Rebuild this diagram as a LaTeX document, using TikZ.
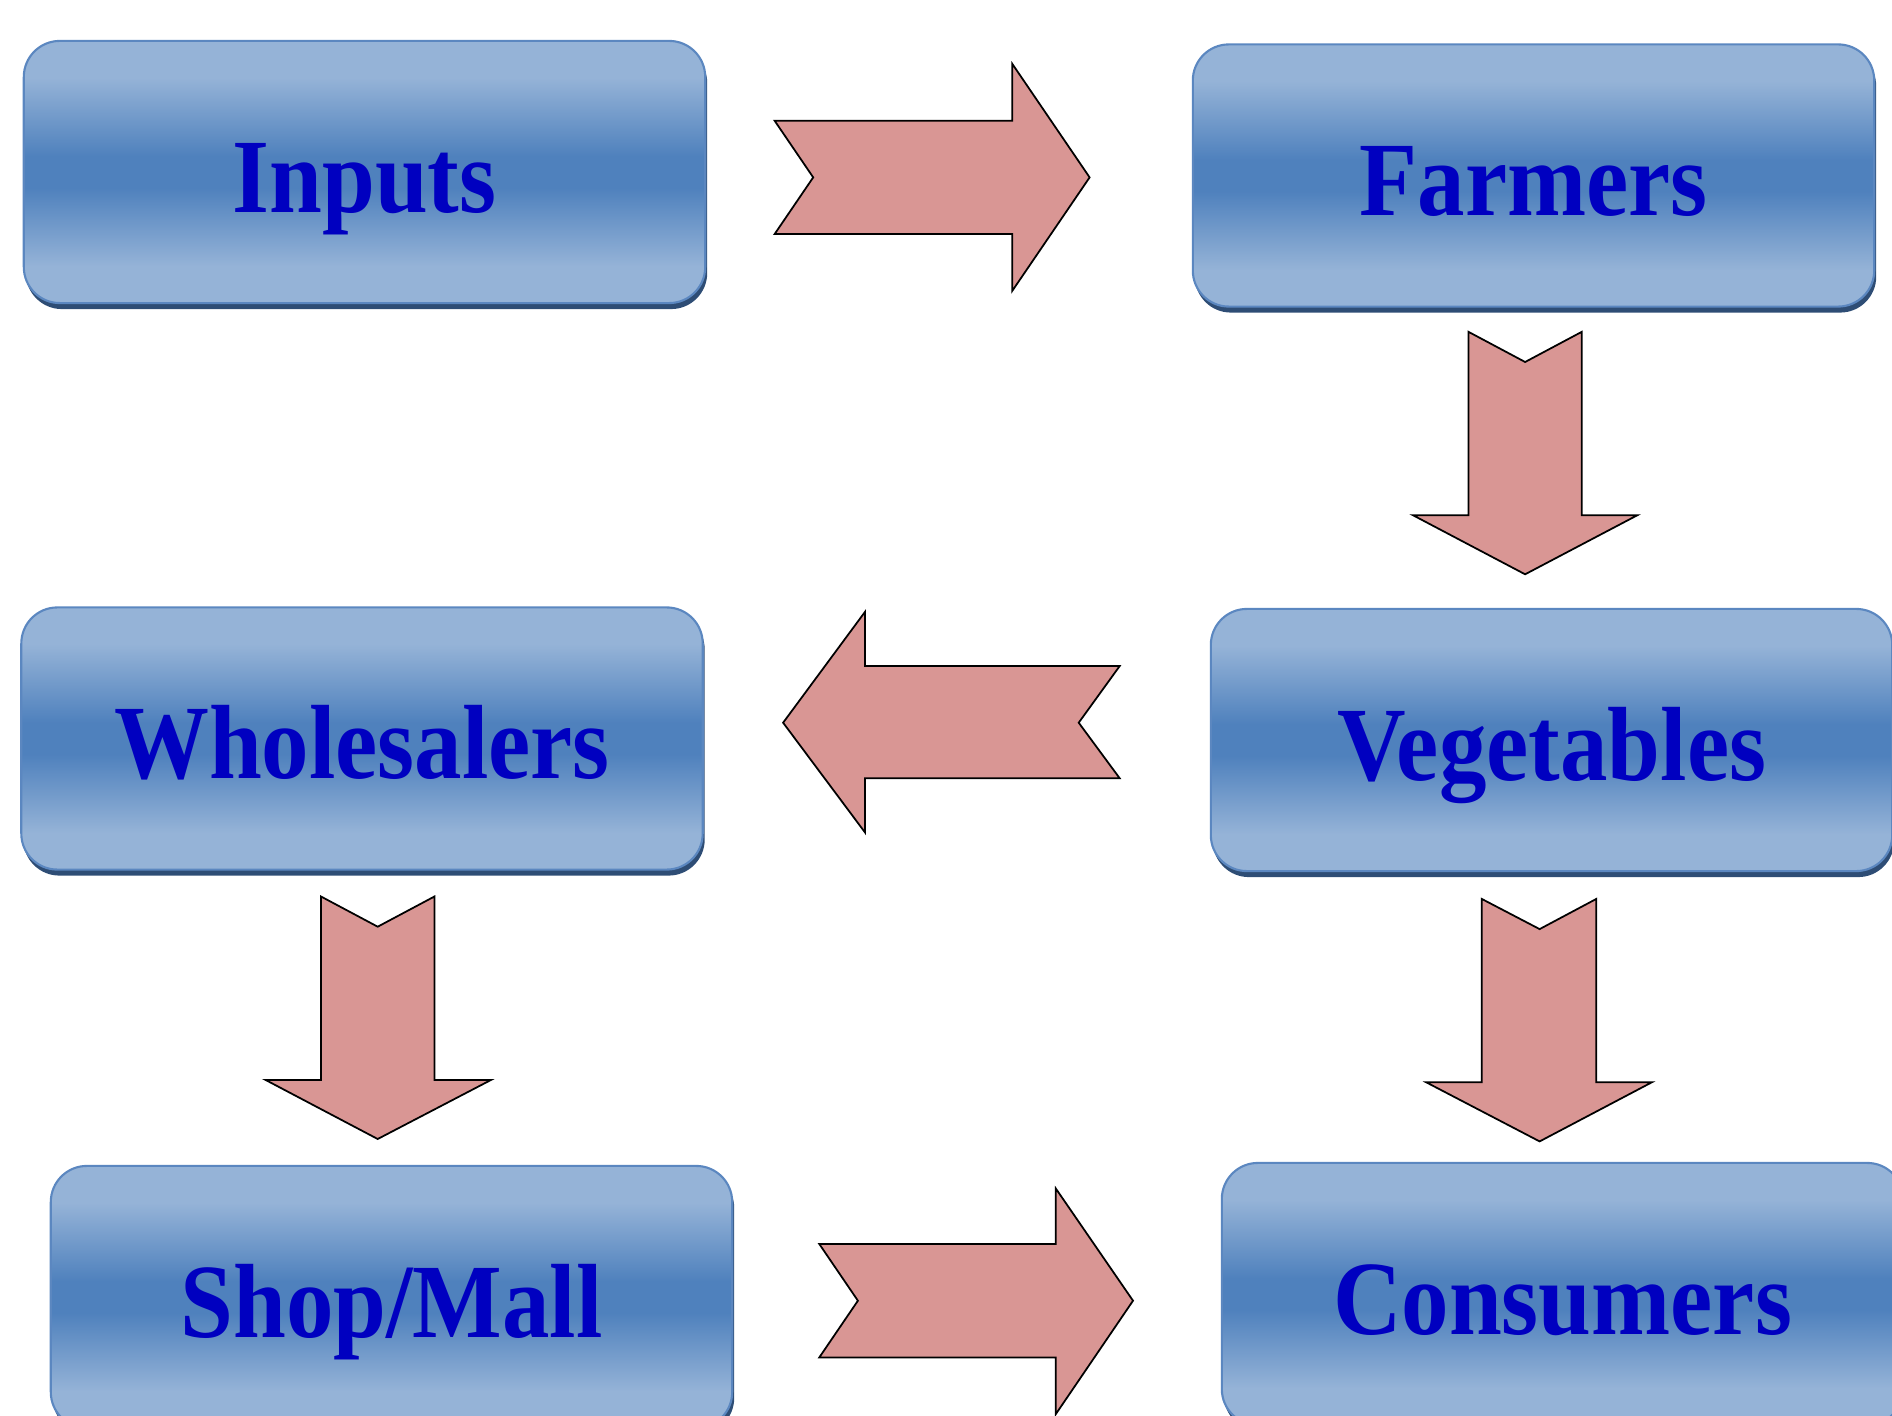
\documentclass[tikz,border=0pt]{standalone}
\usepackage{fontspec}
\setmainfont{Liberation Serif}
\usetikzlibrary{shadows}
\definecolor{boxlight}{HTML}{95B3D7}
\definecolor{boxdark}{HTML}{4F81BD}
\definecolor{boxedge}{HTML}{5B87C0}
\definecolor{shadowblue}{HTML}{2E4D75}
\definecolor{textblue}{HTML}{0000C0}
\definecolor{arrowpink}{HTML}{D99694}
\pgfdeclareverticalshading{boxshade}{100bp}{color(0bp)=(boxlight); color(25bp)=(boxlight); color(32bp)=(boxlight); color(47bp)=(boxdark); color(53bp)=(boxdark); color(68bp)=(boxlight); color(75bp)=(boxlight); color(100bp)=(boxlight)}
\newcommand{\boxlabel}[1]{\scalebox{0.9}[1]{#1}}
\tikzset{
  stagebox/.style={rectangle, rounded corners=0.36cm, shading=boxshade, draw=boxedge, line width=0.6pt,
    minimum width=6.81cm, minimum height=2.62cm, inner sep=0pt,
    drop shadow={shadow xshift=0.02cm, shadow yshift=-0.06cm, fill=shadowblue, opacity=1},
    font=\fontsize{30}{36}\selectfont\bfseries, text=textblue, text height=0.80cm, text depth=0pt},
  blockarrow/.style={fill=arrowpink, draw=black, line width=0.5pt, line join=miter}
}
\begin{document}
\begin{tikzpicture}[x=0.01cm, y=-0.01cm]
\useasboundingbox (0,0) rectangle (1892,1416);
\node[stagebox] (inputs) at (364.5,172) {\boxlabel{Inputs}};
\node[stagebox] (farmers) at (1533.5,175.5) {\boxlabel{Farmers}};
\node[stagebox] (wholesalers) at (362,738.5) {\boxlabel{Wholesalers}};
\node[stagebox] (vegetables) at (1551.5,740) {\boxlabel{Vegetables}};
\node[stagebox] (shop) at (391.5,1297) {\boxlabel{Shop/Mall}};
\node[stagebox] (consumers) at (1562.5,1294) {\boxlabel{Consumers}};
% Inputs -> Farmers
\draw[blockarrow] (774.6,120.7) -- (1012.3,120.7) -- (1012.3,63.9) -- (1089.6,177.4) -- (1012.3,290.8) -- (1012.3,234.1) -- (774.6,234.1) -- (813.2,177.4) -- cycle;
% Farmers -> Vegetables
\draw[blockarrow] (1468.4,331.8) -- (1525.1,362) -- (1581.8,331.8) -- (1581.8,515.2) -- (1637.4,515.2) -- (1525.1,574.3) -- (1412.9,515.2) -- (1468.4,515.2) -- cycle;
% Vegetables -> Wholesalers
\draw[blockarrow] (1119.7,666) -- (865.1,666) -- (865.1,611.7) -- (783.1,722.7) -- (865.1,832.6) -- (865.1,778.3) -- (1119.7,778.3) -- (1078.7,722.7) -- cycle;
% Wholesalers -> Shop/Mall
\draw[blockarrow] (321,896.5) -- (377.7,926.7) -- (434.4,896.5) -- (434.4,1079.9) -- (491.1,1079.9) -- (377.7,1139) -- (265.5,1079.9) -- (321,1079.9) -- cycle;
% Vegetables -> Consumers
\draw[blockarrow] (1481.7,898.9) -- (1539.6,929.1) -- (1596.3,898.9) -- (1596.3,1082.3) -- (1651.8,1082.3) -- (1539.6,1141.4) -- (1426.2,1082.3) -- (1481.7,1082.3) -- cycle;
% Shop/Mall -> Consumers
\draw[blockarrow] (819.3,1244) -- (1055.8,1244) -- (1055.8,1188.5) -- (1133,1300.7) -- (1055.8,1414.1) -- (1055.8,1357.4) -- (819.3,1357.4) -- (857.9,1300.7) -- cycle;
\end{tikzpicture}
\end{document}
